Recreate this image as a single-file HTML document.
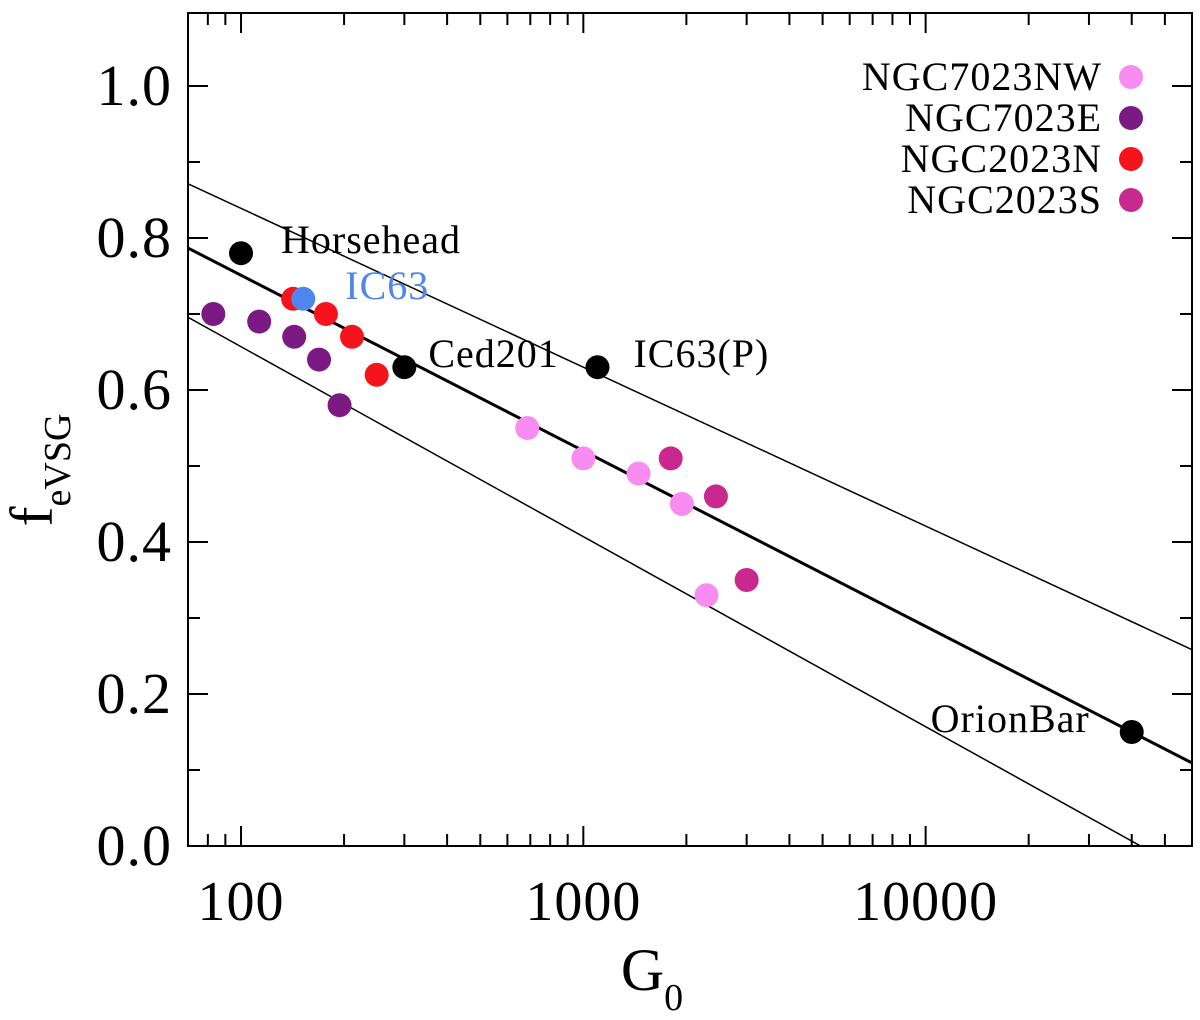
<!DOCTYPE html>
<html><head><meta charset="utf-8"><style>
body{margin:0;background:#fff;}
svg{display:block;font-family:"Liberation Serif",serif;}
</style></head><body>
<svg id="chart" width="1200" height="1020" viewBox="0 0 1200 1020"></svg>
<script>
const xTickValues=[100,1000,10000];
const xTickLabels=["100","1000","10000"];
const yTickValues=[0,0.2,0.4,0.6,0.8,1.0];
const yTickLabels=["0.0","0.2","0.4","0.6","0.8","1.0"];
const seriesNames=["NGC7023NW","NGC7023E","NGC2023N","NGC2023S"];
const seriesColors=["#f98cf0","#7b1a82","#f5141c","#c9288e"];
const nw_G=[686,1000,1450,1940,2290];
const nw_f=[0.55,0.51,0.49,0.45,0.33];
const e_G=[83,113,143,169,194];
const e_f=[0.70,0.69,0.67,0.64,0.58];
const n_G=[142,177,211,249];
const n_f=[0.72,0.70,0.67,0.62];
const s_G=[1800,2440,3000];
const s_f=[0.51,0.46,0.35];
const ref_names=["Horsehead","Ced201","IC63(P)","OrionBar","IC63"];
const ref_G=[100,300,1100,40000,152];
const ref_f=[0.78,0.63,0.63,0.15,0.72];
// fit lines: f = a + b*log10(G)
const fit_a=[1.213,1.257,1.157];
const fit_b=[-0.231,-0.209,-0.250];

const L=188,R=1192,T=13,B=846;
const lx0=Math.log10(70),lx1=Math.log10(60000);
const X=g=>L+(Math.log10(g)-lx0)/(lx1-lx0)*(R-L);
const Y=f=>B-f*760;
const svg=document.getElementById('chart');
const NS='http://www.w3.org/2000/svg';
function mk(tag,attrs,parent){const e=document.createElementNS(NS,tag);for(const k in attrs)e.setAttribute(k,attrs[k]);(parent||svg).appendChild(e);return e;}

const clip=mk('clipPath',{id:'pc'});mk('rect',{x:L,y:T,width:R-L,height:B-T},clip);
const lines=mk('g',{'clip-path':'url(#pc)'});


for(let i=0;i<3;i++){
  const g0=70,g1=60000;
  const ln=mk('line',{x1:X(g0),y1:Y(fit_a[i]+fit_b[i]*Math.log10(g0)),x2:X(g1),y2:Y(fit_a[i]+fit_b[i]*Math.log10(g1)),stroke:'#000','stroke-width':i==0?3:1.5},lines);
  
  
}
const ax=mk('g',{stroke:'#000','stroke-width':2,fill:'none'});


mk('rect',{x:L,y:T,width:R-L,height:B-T},ax);
for(let d=10;d<=10000;d*=10){for(let m=1;m<10;m++){const g=d*m;if(g<70||g>60000)continue;const x=X(g);const len=(m==1)?20:12;
 mk('line',{x1:x,y1:B,x2:x,y2:B-len},ax);mk('line',{x1:x,y1:T,x2:x,y2:T+len},ax);}}
for(let k=0;k<=10;k++){const y=Y(k*0.1);const len=(k%2==0)?20:12;
 mk('line',{x1:L,y1:y,x2:L+len,y2:y},ax);mk('line',{x1:R,y1:y,x2:R-len,y2:y},ax);}
xTickValues.forEach((v,i)=>{const t=mk('text',{x:X(v),y:920,'font-size':56,'letter-spacing':1,'text-anchor':'middle'});t.textContent=xTickLabels[i];
 });
yTickValues.forEach((v,i)=>{const t=mk('text',{x:172,y:Y(v)+19,'font-size':58,'letter-spacing':1,'text-anchor':'end'});t.textContent=yTickLabels[i];
 });
const xt=mk('text',{x:652,y:990,'font-size':60,'text-anchor':'middle'});
xt.innerHTML='G<tspan font-size="38" dy="20">0</tspan>';

const yt=mk('text',{transform:'translate(52,470) rotate(-90)','font-size':60,'text-anchor':'middle'});
yt.innerHTML='f<tspan font-size="38" dy="18">eVSG</tspan>';

const sets=[[nw_G,nw_f],[e_G,e_f],[n_G,n_f],[s_G,s_f]];
const order=[1,2,0,3];
order.forEach(si=>{const [gs,fs]=sets[si];gs.forEach((g,j)=>{const c=mk('circle',{cx:X(g),cy:Y(fs[j]),r:12,fill:seriesColors[si]});
 });});
const labOff=[[40,0],[24,0],[36,0],[-42,0],[42,0]];
ref_G.forEach((g,i)=>{const blue=i==4;const c=mk('circle',{cx:X(g),cy:Y(ref_f[i]),r:12,fill:blue?'#4f86ee':'#000'});
 
 const t=mk('text',{x:X(g)+labOff[i][0],y:Y(ref_f[i])+labOff[i][1],'font-size':40,'letter-spacing':1,fill:blue?'#4f86ee':'#000','text-anchor':i==3?'end':'start'});
 t.textContent=ref_names[i];
 });
const lg=mk('g',{});

seriesNames.forEach((n,i)=>{const y=77+i*41;
 const t=mk('text',{x:1102,y:y+13,'font-size':40,'letter-spacing':1,'text-anchor':'end'},lg);t.textContent=n;
 
 const c=mk('circle',{cx:1131,cy:y,r:12,fill:seriesColors[i]},lg);
 });
</script>
</body></html>
